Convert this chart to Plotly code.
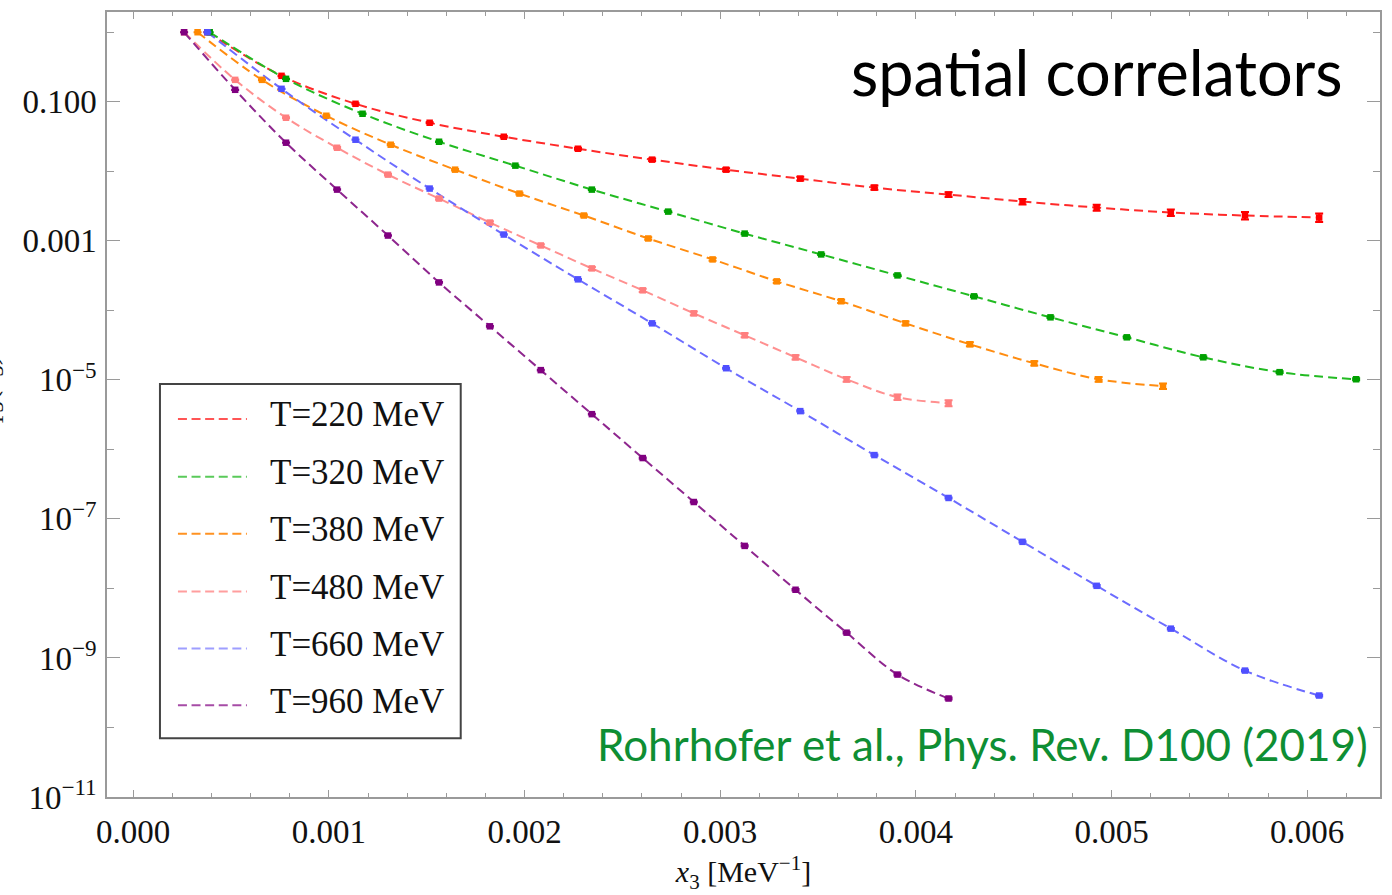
import plotly.graph_objects as go

# ---------------- data ----------------
labels = ["T=220 MeV", "T=320 MeV", "T=380 MeV", "T=480 MeV", "T=660 MeV", "T=960 MeV"]

x_220 = [0.000379, 0.000758, 0.001136, 0.001515, 0.001894, 0.002273, 0.002652, 0.003030,
         0.003409, 0.003788, 0.004167, 0.004545, 0.004924, 0.005303, 0.005682, 0.006061]
c_220 = [1.0, 0.236, 0.0935, 0.0499, 0.0314, 0.0211, 0.0147, 0.01055,
         0.00784, 0.00582, 0.00462, 0.00367, 0.00301, 0.00255, 0.00231, 0.00216]
e_220 = [0.0, 0.01, 0.015, 0.02, 0.025, 0.03, 0.04, 0.05,
         0.06, 0.07, 0.08, 0.09, 0.10, 0.11, 0.12, 0.14]

x_320 = [0.000391, 0.000781, 0.001172, 0.001563, 0.001953, 0.002344, 0.002734, 0.003125,
         0.003516, 0.003906, 0.004297, 0.004688, 0.005078, 0.005469, 0.005859, 0.006250]
c_320 = [1.0, 0.2137, 0.0672, 0.0266, 0.01205, 0.00545, 0.00263, 0.00127,
         6.37e-4, 3.18e-4, 1.59e-4, 7.93e-5, 4.09e-5, 2.11e-5, 1.29e-5, 1.02e-5]
e_320 = [0.0, 0.005, 0.008, 0.01, 0.012, 0.015, 0.015, 0.02,
         0.02, 0.02, 0.025, 0.025, 0.03, 0.03, 0.03, 0.035]

x_380 = [0.000329, 0.000658, 0.000987, 0.001316, 0.001645, 0.001974, 0.002303, 0.002632,
         0.002961, 0.003289, 0.003618, 0.003947, 0.004276, 0.004605, 0.004934, 0.005263]
c_380 = [1.0, 0.2066, 0.0629, 0.0241, 0.01055, 0.00478, 0.00231, 0.00108,
         5.40e-4, 2.61e-4, 1.35e-4, 6.50e-5, 3.25e-5, 1.73e-5, 1.02e-5, 8.11e-6]
e_380 = [0.0, 0.01, 0.015, 0.02, 0.025, 0.03, 0.035, 0.04,
         0.045, 0.05, 0.055, 0.06, 0.065, 0.07, 0.08, 0.09]

x_480 = [0.000260, 0.000521, 0.000781, 0.001042, 0.001302, 0.001563, 0.001823, 0.002083,
         0.002344, 0.002604, 0.002865, 0.003125, 0.003385, 0.003646, 0.003906, 0.004167]
c_480 = [1.0, 0.2066, 0.0589, 0.0218, 0.00895, 0.00405, 0.00183, 8.57e-4,
         4.01e-4, 1.94e-4, 9.05e-5, 4.38e-5, 2.11e-5, 1.02e-5, 5.64e-6, 4.62e-6]
e_480 = [0.0, 0.01, 0.02, 0.025, 0.03, 0.035, 0.04, 0.045,
         0.05, 0.055, 0.06, 0.065, 0.07, 0.08, 0.09, 0.10]

x_660 = x_220
c_660 = [1.0, 0.1535, 0.02844, 0.00564, 0.00123, 2.79e-4, 6.50e-5, 1.47e-5,
         3.55e-6, 8.28e-7, 2.00e-7, 4.68e-8, 1.09e-8, 2.64e-9, 6.58e-10, 2.88e-10]
e_660 = [0.0, 0.005, 0.005, 0.008, 0.01, 0.01, 0.012, 0.015,
         0.015, 0.02, 0.02, 0.02, 0.025, 0.025, 0.03, 0.03]

x_960 = x_480
c_960 = [1.0, 0.1486, 0.02577, 0.00545, 0.00119, 2.52e-4, 5.89e-5, 1.38e-5,
         3.21e-6, 7.50e-7, 1.75e-7, 4.09e-8, 9.57e-9, 2.31e-9, 5.77e-10, 2.61e-10]
e_960 = [0.0, 0.005, 0.005, 0.008, 0.01, 0.01, 0.012, 0.015,
         0.015, 0.02, 0.02, 0.02, 0.025, 0.025, 0.03, 0.03]

x_ticks = [0.0, 0.001, 0.002, 0.003, 0.004, 0.005, 0.006]
x_ticktext = ["0.000", "0.001", "0.002", "0.003", "0.004", "0.005", "0.006"]
x_minor = [0.0002, 0.0004, 0.0006, 0.0008, 0.0012, 0.0014, 0.0016, 0.0018,
           0.0022, 0.0024, 0.0026, 0.0028, 0.0032, 0.0034, 0.0036, 0.0038,
           0.0042, 0.0044, 0.0046, 0.0048, 0.0052, 0.0054, 0.0056, 0.0058, 0.0062]
y_ticks = [1e-11, 1e-9, 1e-7, 1e-5, 1e-3, 1e-1]
y_ticktext = ["10<sup>−11</sup>", "10<sup>−9</sup>", "10<sup>−7</sup>", "10<sup>−5</sup>",
              "0.001", "0.100"]
y_minor = [1e-10, 1e-8, 1e-6, 1e-4, 1e-2, 1.0]

# ---------------- styles ----------------
series = [
    (x_220, c_220, e_220, "#FF0000", "#FF2a2a", "#FF5555"),
    (x_320, c_320, e_320, "#00A000", "#22BB22", "#5ACA5A"),
    (x_380, c_380, e_380, "#FF8800", "#FF8C10", "#FF9222"),
    (x_480, c_480, e_480, "#FF7F7F", "#FF9090", "#FF9E9E"),
    (x_660, c_660, e_660, "#5050FF", "#6C6CFF", "#9E9EFF"),
    (x_960, c_960, e_960, "#800080", "#8E268E", "#A64CA6"),
]

SERIF = "Liberation Serif, Times New Roman, serif"
SANS = "Lato, Open Sans, sans-serif"

W, H = 1392, 895
L, R, T, B = 107, 1381, 10, 797


def pxx(xp):
    return (xp - L) / (R - L)


def pxy(yp):
    return (B - yp) / (B - T)


fig = go.Figure()
for xs, ys, rel, mcol, lcol, _ in series:
    fig.add_trace(go.Scatter(
        x=xs, y=ys, mode="lines",
        line=dict(color=lcol, width=2, dash="9px,5px", shape="spline", smoothing=1.0),
        showlegend=False, hoverinfo="skip"))
for (xs, ys, rel, mcol, lcol, _), name in zip(series, labels):
    fig.add_trace(go.Scatter(
        x=xs, y=ys, mode="markers", name=name,
        marker=dict(symbol="square", size=6.5, color=mcol, line=dict(width=0)),
        error_y=dict(type="data", array=[v * r for v, r in zip(ys, rel)],
                     color=mcol, thickness=2, width=4),
        showlegend=False))

# ---------------- manual legend ----------------
shapes = [dict(type="rect", xref="paper", yref="paper",
               x0=pxx(160), x1=pxx(461), y0=pxy(738), y1=pxy(383),
               line=dict(color="#444444", width=2), fillcolor="white", layer="above")]
annotations = []
row_y = [418, 476, 533, 591, 648, 705]
for (xs, ys, rel, mcol, lcol, legcol), name, yy in zip(series, labels, row_y):
    shapes.append(dict(type="line", xref="paper", yref="paper",
                       x0=pxx(178), x1=pxx(247), y0=pxy(yy), y1=pxy(yy),
                       line=dict(color=legcol, width=2, dash="9px,4.6px"), layer="above"))
    annotations.append(dict(xref="paper", yref="paper", x=pxx(268), y=pxy(yy - 4),
                            xanchor="left", yanchor="middle", showarrow=False,
                            text=name, font=dict(family=SERIF, size=35, color="#111111")))

annotations.append(dict(xref="paper", yref="paper", x=pxx(1346), y=pxy(70),
                        xanchor="right", yanchor="middle", showarrow=False,
                        text="spatial correlators",
                        font=dict(family=SANS, size=63, color="#000000")))
annotations.append(dict(xref="paper", yref="paper", x=pxx(1371), y=pxy(744),
                        xanchor="right", yanchor="middle", showarrow=False,
                        text="Rohrhofer et al., Phys. Rev. D100 (2019)",
                        font=dict(family=SANS, size=44, color="#0E8E33")))
annotations.append(dict(xref="paper", yref="paper", x=0, y=pxy(400), xshift=-(L - 10),
                        xanchor="right", yanchor="middle", showarrow=False, textangle=-90,
                        text="C<sub>T3</sub>(<i>x</i><sub>3</sub>)",
                        font=dict(family=SERIF, size=32, color="#111111")))

axis_common = dict(showline=True, linecolor="#9a9a9a", linewidth=1.5, mirror="allticks",
                   ticks="inside", tickcolor="#9a9a9a", tickwidth=1.3,
                   showgrid=False, zeroline=False,
                   tickfont=dict(family=SERIF, size=33, color="#111111"))

fig.update_layout(
    width=W, height=H,
    margin=dict(l=L, r=W - R, t=T, b=H - B, pad=0),
    paper_bgcolor="white", plot_bgcolor="white",
    showlegend=False,
    shapes=shapes, annotations=annotations,
    xaxis=dict(range=[-0.000134, 0.006372], tickmode="array", tickvals=x_ticks,
               ticktext=x_ticktext, ticklen=7, ticklabelstandoff=5,
               minor=dict(tickmode="array", tickvals=x_minor, ticks="inside", ticklen=4,
                          tickcolor="#9a9a9a", tickwidth=1.1),
               title=dict(text="<i>x</i><sub>3</sub> [MeV<sup>−1</sup>]",
                          font=dict(family=SERIF, size=30, color="#111111"), standoff=12),
               **axis_common),
    yaxis=dict(type="log", range=[-11, 0.291], tickmode="array", tickvals=y_ticks,
               ticktext=y_ticktext, ticklen=13, ticklabelstandoff=2,
               minor=dict(tickmode="array", tickvals=y_minor, ticks="inside", ticklen=7,
                          tickcolor="#9a9a9a", tickwidth=1.1),
               **axis_common),
)

fig.write_html("out.html", config={"displayModeBar": False},
               post_script="document.body.style.margin='0';document.body.style.overflow='hidden';")
